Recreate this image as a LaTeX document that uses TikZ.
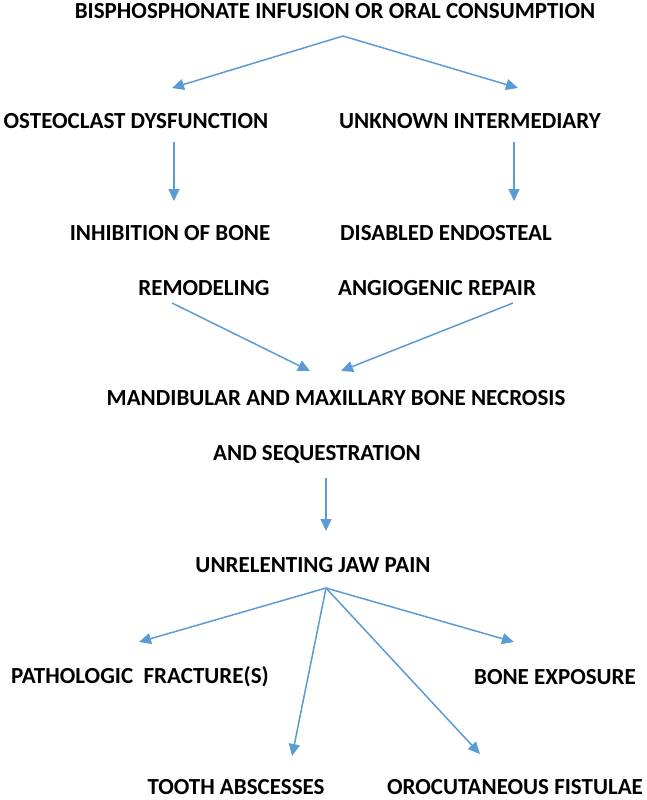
\documentclass[tikz,border=0pt]{standalone}
\usepackage{fontspec}
\setmainfont{Carlito}
\usetikzlibrary{arrows.meta}
\definecolor{flowblue}{HTML}{5B9BD5}
\tikzset{
	label/.style={font=\bfseries\fontsize{23}{26}\selectfont,inner sep=0pt,anchor=center},
	flow/.style={draw=flowblue,line width=1.5pt,-{Triangle[length=12pt,width=11pt]}}
}
\begin{document}
\begin{tikzpicture}[x=1pt,y=-1pt]
				\useasboundingbox (0,0) rectangle (646,800);
				%cause
				\node[label] (bis) at (335,11) {BISPHOSPHONATE INFUSION OR ORAL CONSUMPTION};
				\coordinate (bisfork) at (343,36);
				%two branches
				\node[label] (osteo) at (136,121) {OSTEOCLAST DYSFUNCTION};
				\node[label] (unknown) at (470,121) {UNKNOWN INTERMEDIARY};
				\coordinate (osteoin) at (172,88);
				\coordinate (unknownin) at (518,88);
				\draw[flow] (bisfork) -- (osteoin);
				\draw[flow] (bisfork) -- (unknownin);
				%effects
				\node[label] (inhib) at (170,233) {INHIBITION OF BONE};
				\node[label] (remod) at (204,288) {REMODELING};
				\node[label] (disabled) at (446,233) {DISABLED ENDOSTEAL};
				\node[label] (angio) at (437,288) {ANGIOGENIC REPAIR};
				\coordinate (osteoout) at (174,142);
				\coordinate (inhibin) at (174,201);
				\coordinate (unknownout) at (514,142);
				\coordinate (disabledin) at (514,201);
				\draw[flow] (osteoout) -- (inhibin);
				\draw[flow] (unknownout) -- (disabledin);
				%necrosis
				\node[label] (necrosis) at (336,398) {MANDIBULAR AND MAXILLARY BONE NECROSIS};
				\node[label] (seq) at (317,454) {AND SEQUESTRATION};
				\coordinate (remodout) at (172,303);
				\coordinate (angioout) at (513,303);
				\coordinate (necrosisleft) at (310,371);
				\coordinate (necrosisright) at (341,371);
				\draw[flow] (remodout) -- (necrosisleft);
				\draw[flow] (angioout) -- (necrosisright);
				%pain
				\node[label] (pain) at (313,565) {UNRELENTING JAW PAIN};
				\coordinate (seqout) at (326,478);
				\coordinate (painin) at (326,531);
				\draw[flow] (seqout) -- (painin);
				%outcomes
				\coordinate (painfork) at (326,588);
				\node[label] (fract) at (140,677) {PATHOLOGIC\ \ FRACTURE(S)};
				\node[label] (expo) at (555,677) {BONE EXPOSURE};
				\node[label] (tooth) at (236,787) {TOOTH ABSCESSES};
				\node[label] (fist) at (515,787) {OROCUTANEOUS FISTULAE};
				\coordinate (fractin) at (139,642);
				\coordinate (expoin) at (514,642);
				\coordinate (toothin) at (292,756);
				\coordinate (fistin) at (480,754);
				\draw[flow] (painfork) -- (fractin);
				\draw[flow] (painfork) -- (expoin);
				\draw[flow] (painfork) -- (toothin);
				\draw[flow] (painfork) -- (fistin);
\end{tikzpicture}
\end{document}
